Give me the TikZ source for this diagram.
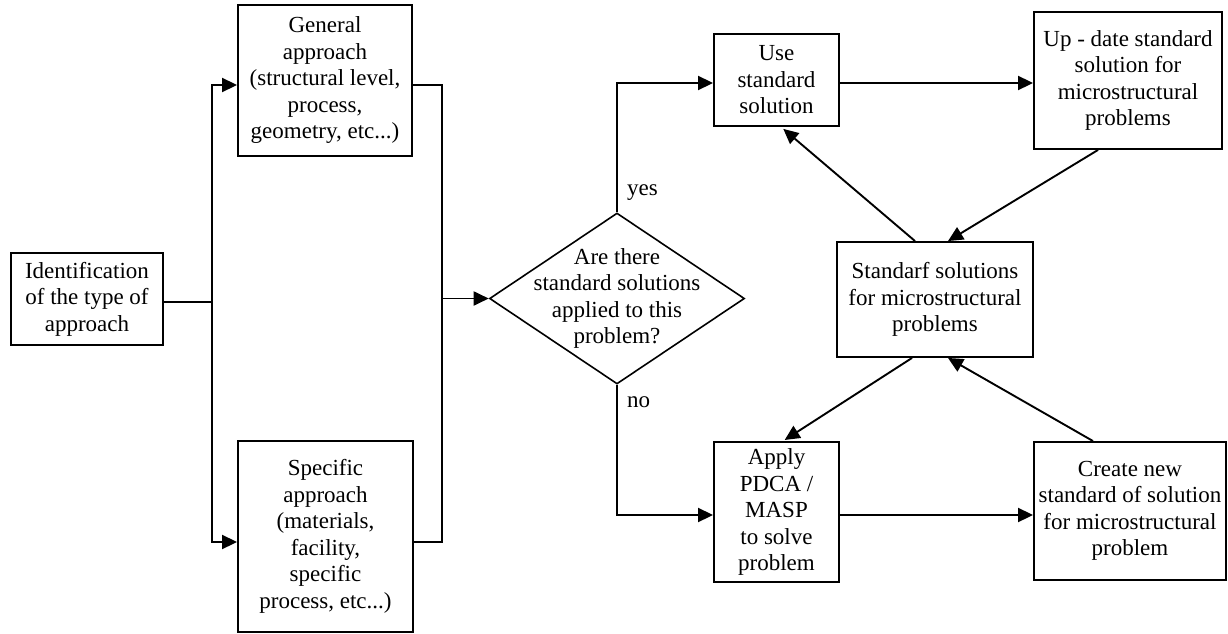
\documentclass[tikz,border=0pt]{standalone}
\usepackage{fontspec}
\setmainfont{Liberation Serif}
\usetikzlibrary{arrows.meta,shapes.geometric}
\begin{document}
\begin{tikzpicture}[x=1pt,y=-1pt,
  every node/.style={font=\fontsize{23}{26.5}\selectfont},
  box/.style={draw,line width=1.9pt,rectangle,align=center,inner sep=0pt},
  conn/.style={line width=1.9pt},
  arr/.style={line width=1.9pt,-{Triangle[length=15pt,width=14pt]}},
  lbl/.style={inner sep=0pt}]
\useasboundingbox (0,0) rectangle (1228,634);
% nodes
\node[box,minimum width=152pt,minimum height=92pt] (ident) at (87,299) {Identification\\of the type of\\approach};
\node[box,minimum width=174pt,minimum height=151pt] (gen) at (325,80.5) {General\\approach\\(structural level,\\process,\\geometry, etc...)};
\node[box,minimum width=175pt,minimum height=191pt] (spec) at (325.5,536.5) {Specific\\approach\\(materials,\\facility,\\specific\\process, etc...)};
\node[draw,diamond,line width=1.6pt,minimum width=255pt,minimum height=171pt,inner sep=0pt] (q) at (617,298.5) {};
\node[align=center,inner sep=0pt] (qtext) at (q.center) {Are there\\standard solutions\\applied to this\\problem?};
\node[box,minimum width=125pt,minimum height=92pt] (use) at (776.5,80) {Use\\standard\\solution};
\node[box,minimum width=188pt,minimum height=137pt] (up) at (1128,80.5) {Up - date standard\\solution for\\microstructural\\problems};
\node[box,minimum width=196pt,minimum height=115pt] (std) at (935,299.5) {Standarf solutions\\for microstructural\\problems};
\node[box,minimum width=125pt,minimum height=140pt] (apply) at (776.5,512) {Apply\\PDCA /\\MASP\\to solve\\problem};
\node[box,minimum width=192pt,minimum height=138pt] (create) at (1130,511) {Create new\\standard of solution\\for microstructural\\problem};
\node[lbl,anchor=west] (yes) at (627,193) {yes};
\node[lbl,anchor=west] (no) at (627,402) {no};
% junctions
\coordinate (jL) at (212,302);
\coordinate (jR) at (442,298.5);
% connectors
\draw[conn] ([yshift=-3pt]ident.east) -- (jL);
\draw[arr] (jL) |- ([yshift=-4.5pt]gen.west);
\draw[arr] (jL) |- ([yshift=-5.5pt]spec.west);
\draw[conn] ([yshift=-4.5pt]gen.east) -| (jR);
\draw[conn] ([yshift=-5.5pt]spec.east) -| (jR);
\draw[arr] (jR) -- (q.west);
\draw[arr] (q.north) |- ([yshift=-3pt]use.west);
\draw[arr] (q.south) |- ([yshift=-3pt]apply.west);
\draw[arr] ([yshift=-3pt]use.east) -- ([yshift=-3pt]use.east -| up.west);
\draw[arr] ([yshift=-3pt]apply.east) -- ([yshift=-3pt]apply.east -| create.west);
\draw[arr,shorten >=3pt] ([xshift=-20pt]std.north) -- ([xshift=4.5pt]use.south);
\draw[arr] ([xshift=-30pt]up.south) -- ([xshift=13pt]std.north);
\draw[arr,shorten >=2pt] ([xshift=-23pt]std.south) -- ([xshift=6.5pt]apply.north);
\draw[arr] ([xshift=-37pt]create.north) -- ([xshift=13pt]std.south);
\end{tikzpicture}
\end{document}
